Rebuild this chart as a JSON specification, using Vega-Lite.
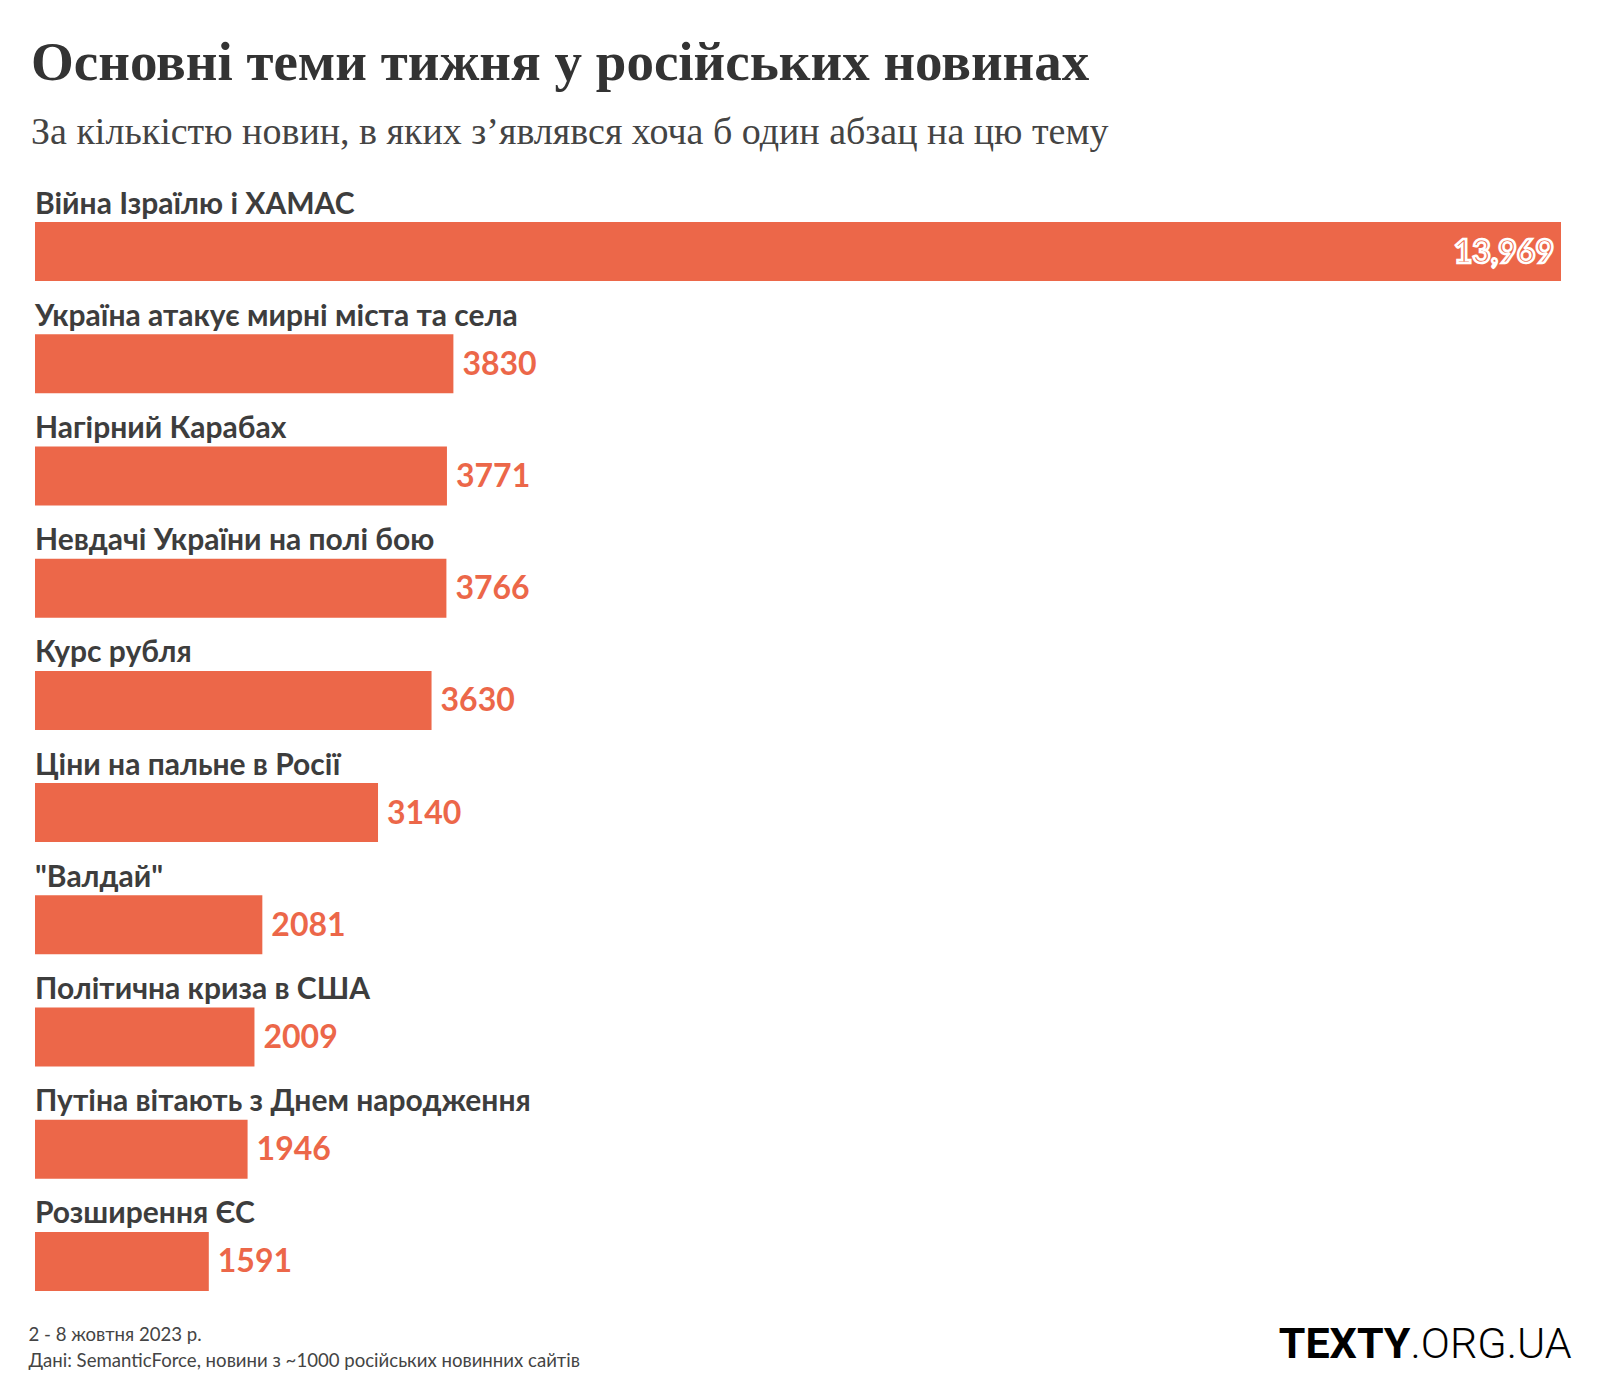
{
  "$schema": "https://vega.github.io/schema/vega-lite/v6.json",
  "width": 1526,
  "height": 1069,
  "padding": {"left": 28, "top": 35, "right": 39, "bottom": 0},
  "background": "white",
  "title": {
    "text": "Основні теми тижня у російських новинах",
    "subtitle": "За кількістю новин, в яких з’являвся хоча б один абзац на цю тему",
    "anchor": "start",
    "frame": "group",
    "dx": -4,
    "font": "Liberation Serif",
    "fontSize": 55,
    "fontWeight": "bold",
    "color": "#333333",
    "subtitleFont": "Liberation Serif",
    "subtitleFontSize": 38,
    "subtitleColor": "#444444",
    "subtitlePadding": 22,
    "offset": 37
  },
  "config": {"view": {"stroke": null}},
  "data": {
    "values": [
      {"topic": "Війна Ізраїлю і ХАМАС", "value": 13969},
      {"topic": "Україна атакує мирні міста та села", "value": 3830},
      {"topic": "Нагірний Карабах", "value": 3771},
      {"topic": "Невдачі України на полі бою", "value": 3766},
      {"topic": "Курс рубля", "value": 3630},
      {"topic": "Ціни на пальне в Росії", "value": 3140},
      {"topic": "\"Валдай\"", "value": 2081},
      {"topic": "Політична криза в США", "value": 2009},
      {"topic": "Путіна вітають з Днем народження", "value": 1946},
      {"topic": "Розширення ЄС", "value": 1591}
    ]
  },
  "resolve": {"scale": {"y": "independent"}, "axis": {"y": "independent"}},
  "layer": [
    {
      "encoding": {
        "y": {"field": "topic", "type": "nominal", "sort": null,
          "scale": {"type": "band", "paddingInner": 0.474, "paddingOuter": 0},
          "axis": {"orient": "left", "labels": false, "ticks": false, "domain": false, "grid": false,
            "title": "TEXTY", "titleAngle": 0, "titleAlign": "right", "titleBaseline": "alphabetic",
            "titleX": 1375, "titleY": 1135, "titleFont": "Roboto", "titleFontSize": 43, "titleFontWeight": "bold", "titleColor": "#000000"}},
        "x": {"field": "value", "type": "quantitative",
          "scale": {"domain": [0, 13969], "nice": false, "zero": true},
          "axis": {"labels": false, "ticks": false, "domain": false, "grid": false,
            "title": ["2 - 8 жовтня 2023 р.", "Дані: SemanticForce, новини з ~1000 російських новинних сайтів"],
            "titleAnchor": "start", "titleAlign": "left", "titleBaseline": "alphabetic",
            "titleX": -7, "titleY": 49, "titleLineHeight": 26,
            "titleFont": "Lato", "titleFontSize": 18.6, "titleFontWeight": "normal", "titleColor": "#444444"}}
      },
      "layer": [
        {"mark": {"type": "bar", "color": "#EC6749"}},
        {
          "transform": [{"filter": "datum.value < 10000"}],
          "mark": {"type": "text", "align": "left", "baseline": "alphabetic", "dx": 9, "dy": 11,
            "font": "Lato", "fontSize": 32, "fontWeight": "bold", "color": "#EC6749"},
          "encoding": {"text": {"field": "value", "type": "quantitative", "format": "d"}}
        },
        {
          "transform": [{"filter": "datum.value >= 10000"}],
          "mark": {"type": "text", "align": "right", "baseline": "alphabetic", "dx": -7, "dy": 11,
            "font": "Lato", "fontSize": 32, "fontWeight": "bold", "color": "#EC6749",
            "stroke": "white", "strokeWidth": 2.5},
          "encoding": {"text": {"field": "value", "type": "quantitative", "format": ","}}
        }
      ]
    },
    {
      "mark": {"type": "text", "align": "left", "baseline": "alphabetic", "dy": -38,
        "font": "Lato", "fontSize": 30, "fontWeight": "bold", "color": "#3d3d3d"},
      "encoding": {
        "y": {"field": "topic", "type": "nominal", "sort": null,
          "scale": {"type": "band", "paddingInner": 0.474, "paddingOuter": 0},
          "axis": {"orient": "right", "labels": false, "ticks": false, "domain": false, "grid": false,
            "title": ".ORG.UA", "titleAngle": 0, "titleAlign": "left", "titleBaseline": "alphabetic",
            "titleX": -151, "titleY": 1135, "titleFont": "Roboto", "titleFontSize": 43, "titleFontWeight": 300, "titleColor": "#000000"}},
        "x": {"datum": 0, "type": "quantitative"},
        "text": {"field": "topic", "type": "nominal"}
      }
    }
  ]
}
